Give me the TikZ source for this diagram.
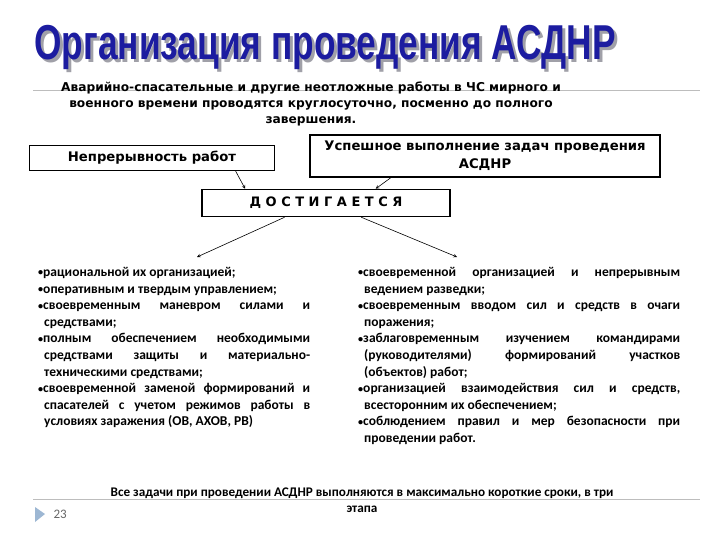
\documentclass[tikz,border=0pt]{standalone}
\usepackage{fontspec}
\setmainfont{Carlito}
\newfontfamily\titlefont{Liberation Sans}
\newfontfamily\widefont{DejaVu Sans}
\definecolor{titleblue}{HTML}{1C1CA0}
\definecolor{titleshadow}{HTML}{A0A0A8}
\definecolor{rulegray}{HTML}{BDBDBD}
\definecolor{markerblue}{HTML}{9DB7D3}
\tikzstyle{box}=[draw, line width=1.5pt, inner sep=2pt, align=center]
\tikzstyle{arrow}=[->, >=stealth, semithick]
\tikzstyle{list}=[anchor=north west, inner sep=0pt, align=justify, font=\fontsize{13.5}{16.6}\selectfont\bfseries]
\newcommand{\listentry}[1]{\hangindent=6pt\hangafter=1\noindent\raisebox{0.5pt}{\scalebox{0.75}{\textbullet}}#1\par}

\begin{document}
\begin{tikzpicture}[x=1pt, y=-1pt]
\useasboundingbox (0,0) rectangle (720,540);

% title
\node[titleshadow] (shadow) at (328,50) {\titlefont\bfseries\fontsize{49}{52}\selectfont\scalebox{0.72}[1]{Организация проведения АСДНР}};
\node[titleblue] (title) at (325,47) {\titlefont\bfseries\fontsize{49}{52}\selectfont\scalebox{0.72}[1]{Организация проведения АСДНР}};

\draw[rulegray] (33,90) coordinate (r1) -- (700,90) coordinate (r2);
\node[align=center, font=\widefont\bfseries\fontsize{12.2}{16}\selectfont] (intro) at (311,104)
  {Аварийно-спасательные и другие неотложные работы в ЧС мирного и\\
   военного времени проводятся круглосуточно, посменно до полного\\
   завершения.};

\node[box, minimum width=245, minimum height=25, font=\widefont\bfseries\fontsize{13.2}{18}\selectfont] (cont) at (152,158) {Непрерывность работ};
\node[box, minimum width=350, minimum height=42, font=\widefont\bfseries\fontsize{13.2}{18}\selectfont] (succ) at (485,156) {Успешное выполнение задач проведения\\АСДНР};
\node[box, minimum width=248, minimum height=27, font=\widefont\bfseries\fontsize{13}{15}\selectfont] (ach) at (326,203) {Д О С Т И Г А Е Т С Я};

\draw[arrow] (cont.-9) -- (ach.170);
\draw[arrow] (succ.193) -- (ach.16);

\coordinate (lend) at (197,257);
\coordinate (rend) at (457,257);
\draw[arrow] (ach.199) -- (lend);
\draw[arrow] (ach.-22) -- (rend);

\node[list, text width=272] (left) at (38,267) {%
\listentry{рациональной их организацией;}
\listentry{оперативным и твердым управлением;}
\listentry{своевременным маневром силами и\linebreak средствами;}
\listentry{полным обеспечением необходимыми\linebreak средствами защиты и материально-\linebreak техническими средствами;}
\listentry{своевременной заменой формирований и\linebreak спасателей с учетом режимов работы в\linebreak условиях заражения (ОВ, АХОВ, РВ)}};

\node[list, text width=322] (right) at (358,267) {%
\listentry{своевременной организацией и непрерывным\linebreak ведением разведки;}
\listentry{своевременным вводом сил и средств в очаги\linebreak поражения;}
\listentry{заблаговременным изучением командирами\linebreak (руководителями) формирований участков\linebreak (объектов) работ;}
\listentry{организацией взаимодействия сил и средств,\linebreak всесторонним их обеспечением;}
\listentry{соблюдением правил и мер безопасности при\linebreak проведении работ.}};

% footer
\draw[rulegray] (33,499) coordinate (r3) -- (700,499) coordinate (r4);
\node[align=center, font=\fontsize{13.2}{16}\selectfont\bfseries] (final) at (362,500)
  {Все задачи при проведении АСДНР выполняются в максимально короткие сроки, в три\\этапа};
\fill[markerblue] (35,507) -- (45,514) -- (35,522) -- cycle;
\node[gray!80!black, font=\fontsize{13}{15}\selectfont, anchor=west] (page) at (50,514) {23};
\end{tikzpicture}
\end{document}
